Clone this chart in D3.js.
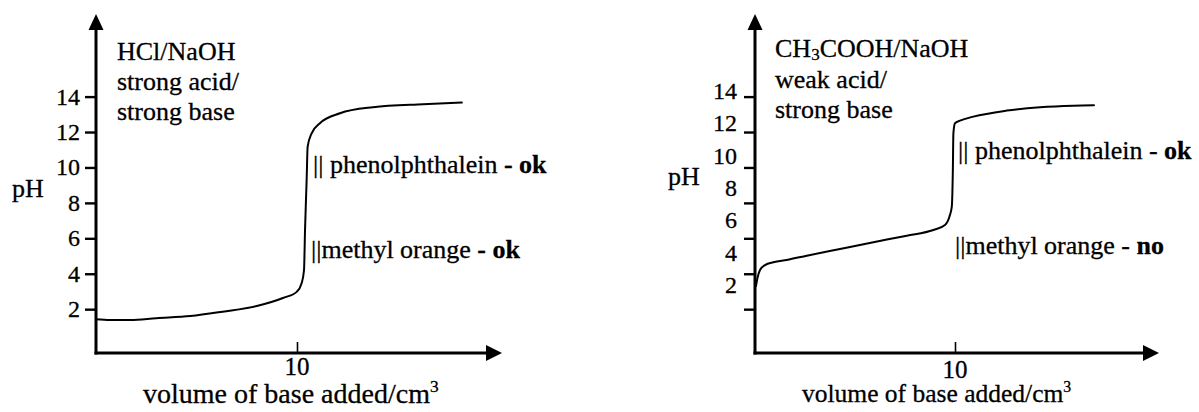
<!DOCTYPE html>
<html><head><meta charset="utf-8">
<script src="https://cdn.jsdelivr.net/npm/d3@7"></script>
<style>
html,body{margin:0;padding:0;background:#fff;}
svg{display:block;background:#fff;}
text{font-family:"Liberation Serif","Times New Roman",Times,serif;fill:#000;stroke:#000;stroke-width:0.3px;}
</style></head><body>
<svg id="c" width="1199" height="412" font-family="Liberation Serif, Times New Roman, serif"></svg>
<script>
// ---- data ----
const pHTicks = [14, 12, 10, 8, 6, 4, 2];
const pHTickLabels = ["14", "12", "10", "8", "6", "4", "2"];
const volTicks = [10];
const volTickLabels = ["10"];

// HCl / NaOH (strong acid / strong base)
const strongVol = [0, 0.7, 1.7, 3.0, 4.7, 6.3, 8.0, 9.3, 10.0, 10.23, 10.35, 10.40, 10.48, 10.53, 10.73, 11.14, 12.14, 13.78, 16.27, 18.2];
const strongPH  = [1.43, 1.39, 1.39, 1.49, 1.61, 1.86, 2.18, 2.63, 2.99, 3.46, 4.21, 6.47, 9.29, 11.17, 11.93, 12.50, 13.06, 13.40, 13.57, 13.66];

// CH3COOH / NaOH (weak acid / strong base)
const weakVol = [0.05, 0.12, 0.25, 0.5, 0.92, 1.59, 2.59, 4.25, 5.92, 7.59, 8.92, 9.5, 9.72, 9.84, 9.89, 9.92, 10.0, 10.25, 10.92, 12.59, 14.25, 15.92, 16.95];
const weakPH  = [3.31, 3.74, 4.21, 4.49, 4.65, 4.78, 5.02, 5.40, 5.78, 6.15, 6.47, 6.75, 7.22, 7.79, 9.67, 11.93, 12.50, 12.64, 12.87, 13.21, 13.40, 13.49, 13.51];

// ---- layout ----
const svg = d3.select("#c");
const axisY = 353;     // x-axis baseline
const axisTop = 14;    // arrow tip of y-axis
const y = d3.scaleLinear().domain([0, 14]).range([344.6, 96.6]);

function drawChart(cfg) {
  const g = svg.append("g");
  const x = d3.scaleLinear().domain([0, 20.2]).range([cfg.x0, cfg.x1]);
  const x0 = x(0), x1 = x(20.2);

  // y tick marks via d3 axis
  const ya = d3.axisLeft(y).tickValues(pHTicks).tickSize(11).tickFormat("");
  const yg = g.append("g").attr("transform", `translate(${x0},0)`).call(ya);
  yg.select(".domain").remove();
  yg.selectAll(".tick line").attr("stroke", "#000").attr("stroke-width", 2.4);

  // x tick marks via d3 axis
  const xa = d3.axisTop(x).tickValues(volTicks).tickSize(11).tickFormat("");
  const xg = g.append("g").attr("transform", `translate(0,${axisY})`).call(xa);
  xg.select(".domain").remove();
  xg.selectAll(".tick line").attr("stroke", "#000").attr("stroke-width", 1.6);

  // axes lines
  g.append("line").attr("x1", x0).attr("x2", x0).attr("y1", axisY + 1.5).attr("y2", axisTop + 12)
    .attr("stroke", "#000").attr("stroke-width", 3);
  g.append("line").attr("x1", x0 - 1.5).attr("x2", x1 - 12).attr("y1", axisY).attr("y2", axisY)
    .attr("stroke", "#000").attr("stroke-width", 3);
  // arrowheads
  g.append("path").attr("d", `M${x0},${axisTop} L${x0 - 7.5},${axisTop + 16} L${x0 + 7.5},${axisTop + 16} Z`).attr("fill", "#000");
  g.append("path").attr("d", `M${x1},${axisY} L${x1 - 16},${axisY - 8} L${x1 - 16},${axisY + 8} Z`).attr("fill", "#000");

  // y tick labels
  g.selectAll("text.yl").data(pHTicks).join("text").attr("class", "yl")
    .attr("x", cfg.yLabelX).attr("y", (d) => cfg.labelY(d))
    .attr("text-anchor", "end").attr("font-size", 24)
    .text((d, i) => pHTickLabels[i]);

  // x tick label
  g.selectAll("text.xl").data(volTicks).join("text").attr("class", "xl")
    .attr("x", (d) => x(d)).attr("y", cfg.xLabelY)
    .attr("text-anchor", "middle").attr("font-size", 25)
    .text((d, i) => volTickLabels[i]);

  // axis titles
  g.append("text").attr("x", cfg.pHx).attr("y", cfg.pHy).attr("font-size", 26).text("pH");
  const xt = g.append("text").attr("x", cfg.volX).attr("y", cfg.volY).attr("font-size", cfg.volSize);
  xt.append("tspan").text("volume of base added/cm");
  xt.append("tspan").attr("font-size", cfg.volSize * 0.62).attr("dy", -cfg.volSize * 0.38).text("3");

  // title block
  cfg.title(g);

  // curve
  const pts = cfg.vol.map((v, i) => [v, cfg.ph[i]]);
  const line = d3.line().x((d) => x(d[0])).y((d) => y(d[1])).curve(d3.curveMonotoneX);
  g.append("path").attr("d", line(pts)).attr("fill", "none").attr("stroke", "#000")
    .attr("stroke-width", 2).attr("stroke-linejoin", "round").attr("stroke-linecap", "round");

  // indicator notes
  cfg.notes(g);
}

drawChart({
  x0: 96, x1: 502,
  vol: strongVol, ph: strongPH,
  yLabelX: 80, labelY: (d) => y(d) + 8,
  xLabelY: 375,
  pHx: 12, pHy: 197,
  volX: 143, volY: 403, volSize: 28,
  title: (g) => {
    const t = g.append("text").attr("font-size", 26);
    t.append("tspan").attr("x", 117).attr("y", 60).text("HCl/NaOH");
    t.append("tspan").attr("x", 117).attr("y", 90).text("strong acid/");
    t.append("tspan").attr("x", 117).attr("y", 120).text("strong base");
  },
  notes: (g) => {
    const a = g.append("text").attr("x", 313).attr("y", 173).attr("font-size", 26);
    a.append("tspan").text("|| phenolphthalein ");
    a.append("tspan").attr("font-weight", "bold").text("- ok");
    const b = g.append("text").attr("x", 311).attr("y", 258).attr("font-size", 26);
    b.append("tspan").text("||methyl orange ");
    b.append("tspan").attr("font-weight", "bold").text("- ok");
  }
});

const rightLabelY = d3.scaleLinear().domain([2, 14]).range([293, 99]);
drawChart({
  x0: 755, x1: 1159,
  vol: weakVol, ph: weakPH,
  yLabelX: 737, labelY: (d) => rightLabelY(d),
  xLabelY: 378,
  pHx: 668, pHy: 185,
  volX: 802, volY: 402, volSize: 25.5,
  title: (g) => {
    const t = g.append("text").attr("font-size", 26);
    t.append("tspan").attr("x", 775).attr("y", 57).text("CH");
    t.append("tspan").attr("font-size", 17).attr("dy", 3).text("3");
    t.append("tspan").attr("dy", -3).text("COOH/NaOH");
    t.append("tspan").attr("x", 775).attr("y", 88).text("weak acid/");
    t.append("tspan").attr("x", 775).attr("y", 118).text("strong base");
  },
  notes: (g) => {
    const a = g.append("text").attr("x", 958).attr("y", 159).attr("font-size", 26);
    a.append("tspan").text("|| phenolphthalein - ");
    a.append("tspan").attr("font-weight", "bold").text("ok");
    const b = g.append("text").attr("x", 955).attr("y", 254).attr("font-size", 26);
    b.append("tspan").text("||methyl orange - ");
    b.append("tspan").attr("font-weight", "bold").text("no");
  }
});
</script>
</body></html>
